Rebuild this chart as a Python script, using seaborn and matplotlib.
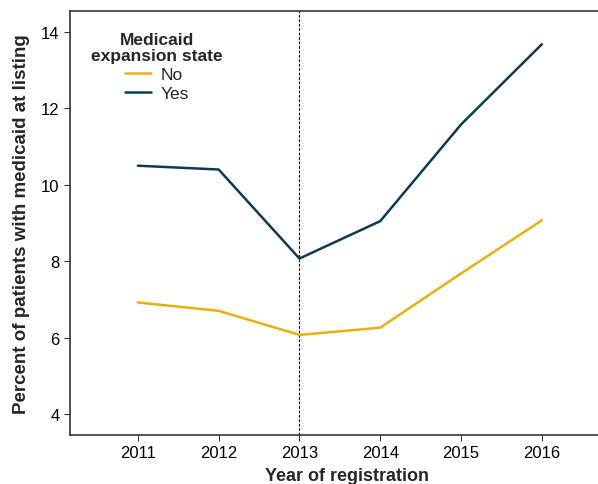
import matplotlib
matplotlib.use("Agg")
import matplotlib.pyplot as plt
import seaborn as sns
import pandas as pd

years = [2011, 2012, 2013, 2014, 2015, 2016]
no_vals = [6.92, 6.70, 6.07, 6.26, 7.68, 9.07]
yes_vals = [10.50, 10.40, 8.07, 9.05, 11.58, 13.68]
groups = ["No", "Yes"]
colors = {"No": "#E8B00F", "Yes": "#0D3A55"}

df = pd.DataFrame({
    "year": years * 2,
    "pct": no_vals + yes_vals,
    "exp": ["No"] * len(years) + ["Yes"] * len(years),
})

sns.set_theme(style="white")
plt.rcParams['font.family'] = ['Liberation Sans', 'DejaVu Sans']

fig = plt.figure(figsize=(5.98, 4.85), dpi=100)
ax = fig.add_axes([70/598, 1 - 436/485, (624 - 70)/598, (436 - 12)/485])
ax.patch.set_visible(False)

sns.lineplot(data=df, x="year", y="pct", hue="exp", hue_order=groups,
             palette=colors, linewidth=1.8, ax=ax)
ax.axvline(2013, color="black", linestyle=(0, (2.5, 1.5)), linewidth=0.8, zorder=0)

ax.set_xlim(2010.16, 2010.16 + 554/80.8)
ax.set_ylim(3.45, 14.55)
ax.set_xticks(years)
ax.set_yticks([4, 6, 8, 10, 12, 14])
ax.tick_params(axis="both", direction="out", length=4, width=0.8, color="#333333",
               labelsize=12, colors="black", bottom=True, left=True)
for s in ["left", "bottom", "top"]:
    ax.spines[s].set_color("#333333")
    ax.spines[s].set_linewidth(1.2)
ax.spines["right"].set_color("none")
ax.spines["right"].set_visible(False)

ax.set_xlabel("Year of registration", fontsize=13, fontweight="bold", labelpad=5)
ax.set_ylabel("Percent of patients with medicaid at listing", fontsize=13.5,
              fontweight="bold", labelpad=8)

leg = ax.legend(title="Medicaid\nexpansion state", loc="upper center",
                bbox_to_anchor=(157/598, 1 - 24/485), bbox_transform=fig.transFigure,
                frameon=False, fontsize=12.5,
                title_fontproperties={"weight": "bold", "size": 12.5},
                handlelength=1.5, handletextpad=0.5, labelspacing=0.2, borderpad=0.0)
leg._legend_box.align = "center"
leg.get_title().set_multialignment("center")
leg.get_title().set_linespacing(1.15)

fig.savefig("out.png", dpi=100, facecolor="white")
